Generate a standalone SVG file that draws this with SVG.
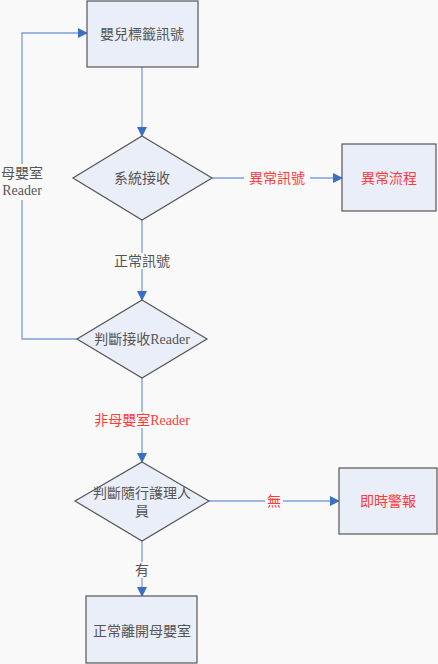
<svg xmlns="http://www.w3.org/2000/svg" width="438" height="664" viewBox="0 0 438 664">
<defs>
<marker id="arr" markerWidth="10" markerHeight="10" refX="9" refY="5" orient="auto" markerUnits="userSpaceOnUse">
<path d="M0,0 L10,5 L0,10 z" fill="#3b6fc4"/>
</marker>
</defs>
<style>
.box{fill:#e9eef8;stroke:#555;stroke-width:1.2}
.dia{fill:#e9eef8;stroke:#555;stroke-width:1.2}
.ln{fill:none;stroke:#7a9fd8;stroke-width:1.3}
.t{font-family:"Liberation Serif","Noto Sans CJK TC",serif;font-size:14px;fill:#555;text-anchor:middle;dominant-baseline:central}
.r{fill:#ff3b3b}
.lb{fill:#f9f9f9}
</style>
<rect width="438" height="664" fill="#f9f9f9"/>
<g id="connectors">
<line class="ln" x1="142" y1="67" x2="142" y2="136" marker-end="url(#arr)"/>
<line class="ln" x1="212" y1="178" x2="342" y2="178" marker-end="url(#arr)"/>
<line class="ln" x1="142" y1="220" x2="142" y2="300" marker-end="url(#arr)"/>
<polyline class="ln" points="77,339 22,339 22,33 87,33" marker-end="url(#arr)"/>
<line class="ln" x1="142" y1="378" x2="142" y2="462" marker-end="url(#arr)"/>
<line class="ln" x1="209" y1="501" x2="339" y2="501" marker-end="url(#arr)"/>
<line class="ln" x1="142" y1="541" x2="142" y2="596" marker-end="url(#arr)"/>
<rect class="lb" x="244" y="170" width="66" height="16"/>
<text class="t r" x="277" y="178">異常訊號</text>
<rect class="lb" x="110" y="253" width="64" height="16"/>
<text class="t" x="142" y="261">正常訊號</text>
<rect class="lb" x="2" y="164" width="40" height="36"/>
<text class="t" x="22" y="173">母嬰室</text>
<text class="t" x="22" y="190">Reader</text>
<rect class="lb" x="92" y="412" width="100" height="16"/>
<text class="t r" x="142" y="420">非母嬰室Reader</text>
<rect class="lb" x="265" y="493" width="18" height="16"/>
<text class="t r" x="274" y="501">無</text>
<rect class="lb" x="133" y="562" width="18" height="16"/>
<text class="t" x="142" y="570">有</text>
</g>
<g id="n1">
<rect class="box" x="87" y="1" width="111" height="66"/>
<text class="t" x="142" y="34">嬰兒標籤訊號</text>
</g>
<g id="n2">
<polygon class="dia" points="142,136 212,178 142,220 73,178"/>
<text class="t" x="142" y="178">系統接收</text>
</g>
<g id="n3">
<rect class="box" x="342" y="144" width="94" height="67"/>
<text class="t r" x="389" y="178">異常流程</text>
</g>
<g id="n4">
<polygon class="dia" points="142,300 207,339 142,378 77,339"/>
<text class="t" x="142" y="339">判斷接收Reader</text>
</g>
<g id="n5">
<polygon class="dia" points="142,462 209,501 142,541 75,501"/>
<text class="t" x="142" y="493">判斷隨行護理人</text>
<text class="t" x="142" y="511">員</text>
</g>
<g id="n6">
<rect class="box" x="339" y="468" width="98" height="66"/>
<text class="t r" x="388" y="501">即時警報</text>
</g>
<g id="n7">
<rect class="box" x="86" y="596" width="111" height="67"/>
<text class="t" x="142" y="631">正常離開母嬰室</text>
</g>
</svg>
